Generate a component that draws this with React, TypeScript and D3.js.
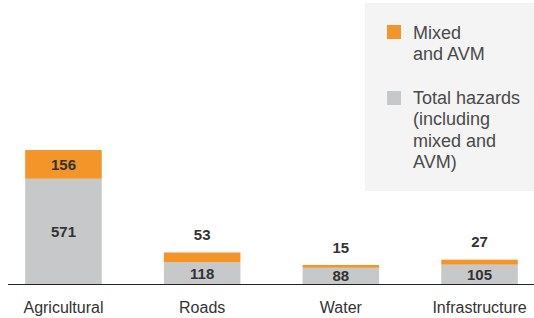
import React from "react";
import * as d3 from "d3";

const categories = ["Agricultural", "Roads", "Water", "Infrastructure"];
const totalHazards = [571, 118, 88, 105];
const mixedAVM = [156, 53, 15, 27];
const legendMixed = ["Mixed", "and AVM"];
const legendTotal = ["Total hazards", "(including", "mixed and", "AVM)"];

const W = 534;
const H = 318;
const ORANGE = "#F39528";
const GRAY = "#C7C8CA";
const FONT = "'Liberation Sans', Arial, Helvetica, sans-serif";

export default function App() {
  const x = d3
    .scaleBand<string>()
    .domain(categories)
    .range([8, 535])
    .paddingInner(0.448)
    .paddingOuter(0.124);
  const y = d3.scaleLinear().domain([0, 727]).range([284, 150]);

  return (
    <svg
      width={W}
      height={H}
      style={{ position: "absolute", left: 0, top: 0, fontFamily: FONT }}
    >
      <rect x={0} y={0} width={W} height={H} fill="#ffffff" />
      {/* legend */}
      <rect x={365} y={3} width={W - 365} height={188} fill="#F4F4F4" />
      <rect x={387} y={25} width={14} height={14} fill={ORANGE} />
      {legendMixed.map((t, i) => (
        <text key={t} x={413} y={38.5 + i * 21.4} fontSize={18} fill="#4a4a4a">
          {t}
        </text>
      ))}
      <rect x={387} y={91} width={14} height={14} fill={GRAY} />
      {legendTotal.map((t, i) => (
        <text key={t} x={413} y={104 + i * 21.3} fontSize={18} fill="#4a4a4a">
          {t}
        </text>
      ))}
      {/* bars */}
      {categories.map((c, i) => {
        const bx = x(c)!;
        const bw = x.bandwidth();
        const gTop = y(totalHazards[i]);
        const oTop = y(totalHazards[i] + mixedAVM[i]);
        const cx = bx + bw / 2;
        const oH = gTop - oTop;
        const mixedInside = oH > 20;
        return (
          <g key={c}>
            <rect x={bx} y={gTop} width={bw} height={y(0) - gTop} fill={GRAY} />
            <rect x={bx} y={oTop} width={bw} height={oH} fill={ORANGE} />
            <text
              x={cx}
              y={(gTop + y(0)) / 2 + 5.5}
              textAnchor="middle"
              fontSize={15}
              fontWeight="bold"
              fill="#333333"
            >
              {totalHazards[i]}
            </text>
            <text
              x={cx}
              y={mixedInside ? (oTop + gTop) / 2 + 5.5 : oTop - 12.5}
              textAnchor="middle"
              fontSize={15}
              fontWeight="bold"
              fill="#333333"
            >
              {mixedAVM[i]}
            </text>
            <text
              x={cx}
              y={312.7}
              textAnchor="middle"
              fontSize={16}
              fill="#333333"
            >
              {c}
            </text>
          </g>
        );
      })}
      <line x1={8} x2={W} y1={y(0) + 0.5} y2={y(0) + 0.5} stroke="#222222" strokeWidth={1.2} />
    </svg>
  );
}
